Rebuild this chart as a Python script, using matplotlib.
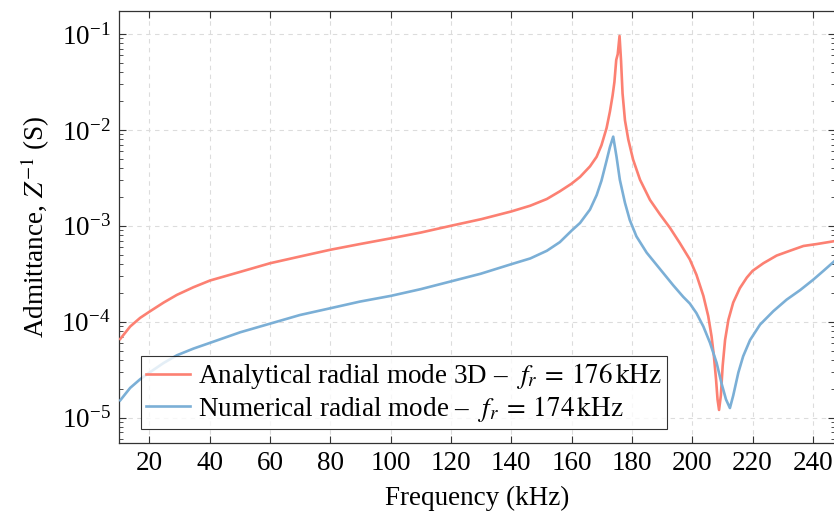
import numpy as np
import matplotlib
matplotlib.use("Agg")
import matplotlib.pyplot as plt
from matplotlib.ticker import LogLocator, FixedLocator

# readings: frequency (kHz) and log10 of admittance (S)
freq_analytical = [10.3, 13.6, 16.9, 20.0, 24.7, 29.1, 34.6, 40.1, 50.1, 60.0,
                   69.9, 79.9, 89.8, 100.1, 110.0, 119.9, 130.1, 140.0, 146.3, 151.8,
                   156.1, 160.0, 162.8, 166.1, 168.3, 169.9, 171.6, 172.7, 173.6, 174.2,
                   174.8, 175.3, 175.9, 176.4, 176.9, 177.7, 178.8, 180.4, 182.7, 186.0,
                   189.3, 192.6, 195.9, 199.2, 201.4, 203.7, 205.3, 206.4, 207.2, 207.9,
                   208.4, 208.9, 209.5, 210.1, 210.9, 212.0, 213.6, 215.8, 218.1, 220.0,
                   223.6, 228.0, 232.4, 236.9, 241.3, 247.1]
logY_analytical = [-4.18, -4.05, -3.96, -3.895, -3.80, -3.72, -3.64, -3.57, -3.48, -3.39,
                   -3.32, -3.25, -3.19, -3.13, -3.07, -3.00, -2.93, -2.85, -2.79, -2.72,
                   -2.64, -2.56, -2.49, -2.38, -2.28, -2.16, -1.98, -1.81, -1.64, -1.50,
                   -1.27, -1.21, -1.02, -1.28, -1.62, -1.90, -2.10, -2.31, -2.52, -2.73,
                   -2.88, -3.02, -3.18, -3.35, -3.51, -3.73, -3.94, -4.15, -4.36, -4.60,
                   -4.81, -4.92, -4.77, -4.46, -4.19, -3.98, -3.80, -3.65, -3.54, -3.47,
                   -3.39, -3.31, -3.26, -3.21, -3.19, -3.16]

freq_numerical = [10.3, 13.6, 16.9, 20.0, 24.7, 29.1, 34.6, 40.1, 50.1, 60.0,
                  69.9, 79.9, 89.8, 100.1, 110.0, 119.9, 129.8, 140.0, 146.3, 151.8,
                  156.1, 160.0, 162.8, 166.1, 168.3, 169.9, 171.6, 172.7, 173.8, 174.9,
                  176.0, 177.7, 179.3, 181.5, 184.9, 189.3, 193.7, 197.0, 199.2, 201.4,
                  203.7, 205.9, 208.1, 209.7, 211.2, 212.5, 213.6, 215.3, 216.9, 219.2,
                  222.5, 226.9, 231.3, 235.8, 240.2, 243.5, 247.1]
logY_numerical = [-4.82, -4.69, -4.60, -4.53, -4.43, -4.35, -4.28, -4.22, -4.11, -4.02,
                  -3.93, -3.86, -3.79, -3.73, -3.66, -3.58, -3.50, -3.40, -3.34, -3.26,
                  -3.17, -3.05, -2.97, -2.83, -2.68, -2.53, -2.32, -2.18, -2.07, -2.28,
                  -2.52, -2.76, -2.94, -3.11, -3.28, -3.45, -3.62, -3.74, -3.81, -3.91,
                  -4.05, -4.22, -4.43, -4.64, -4.81, -4.90, -4.77, -4.53, -4.36, -4.19,
                  -4.03, -3.89, -3.77, -3.67, -3.56, -3.47, -3.37]

label_analytical = r"Analytical radial mode 3D – $\ f_r\:=\:176\,\mathrm{kHz}$"
label_numerical = r"Numerical radial mode – $\ f_r\:=\:174\,\mathrm{kHz}$"
x_ticks = [20, 40, 60, 80, 100, 120, 140, 160, 180, 200, 220, 240]

plt.rcParams['font.family'] = ['Liberation Serif', 'DejaVu Serif']
plt.rcParams['mathtext.fontset'] = 'stix'
plt.rcParams['font.size'] = 19.5

fig = plt.figure(figsize=(8.34, 5.13), dpi=100)
ax = fig.add_axes([0.1427, 0.1365, 0.8583, 0.8421])

ax.plot(freq_analytical, 10 ** np.array(logY_analytical), color='#FC8072', lw=1.9,
        label=label_analytical, zorder=3)
ax.plot(freq_numerical, 10 ** np.array(logY_numerical), color='#7BAFD6', lw=1.9,
        label=label_numerical, zorder=3)

ax.set_yscale('log')
ax.set_xlim(9.9, 247.3)
ax.set_ylim(5.44e-6, 0.174)
ax.xaxis.set_major_locator(FixedLocator(x_ticks))
ax.yaxis.set_major_locator(LogLocator(base=10, numticks=10))
ax.yaxis.set_minor_locator(LogLocator(base=10, subs=np.arange(2, 10), numticks=10))

ax.grid(True, which='major', color='#dcdcdc', linestyle=(0, (4, 4)), lw=0.8)
ax.tick_params(which='both', direction='in', top=True, right=True, color='#333333')
ax.tick_params(which='major', length=5, width=0.8, pad=6)
ax.tick_params(which='minor', length=3, width=0.6)
ax.tick_params(axis='x', which='minor', top=False, bottom=False)
for s in ax.spines.values():
    s.set_color('#333333')
    s.set_linewidth(0.9)

ax.set_xlabel("Frequency (kHz)", labelpad=7)
ax.set_ylabel(r"Admittance, $Z^{-1}$ (S)", labelpad=7)

leg = ax.legend(loc='lower left', bbox_to_anchor=(0.0307, 0.032), borderaxespad=0,
                fancybox=False, framealpha=0.8, edgecolor='black',
                handlelength=1.6, handletextpad=0.3, borderpad=0.2, labelspacing=0.1)
leg.get_frame().set_linewidth(0.8)

plt.savefig("out.png", dpi=100)
